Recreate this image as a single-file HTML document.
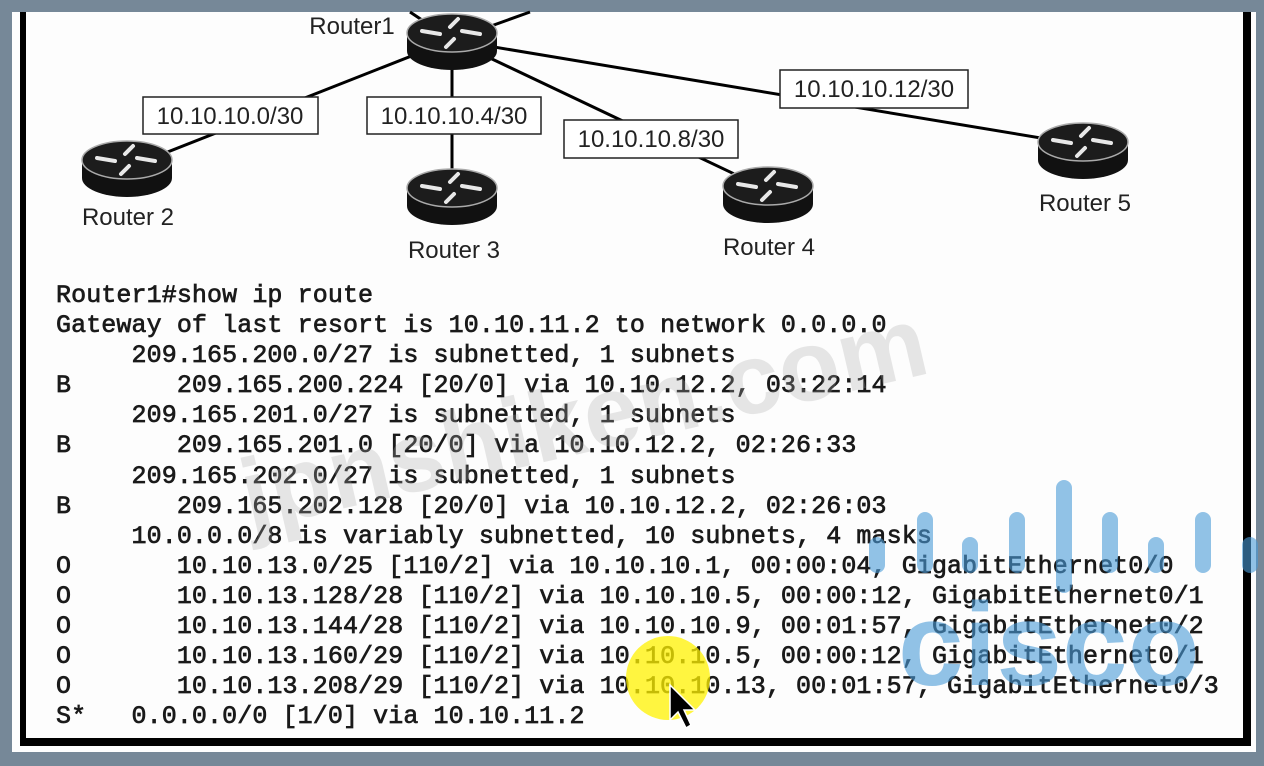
<!DOCTYPE html>
<html><head><meta charset="utf-8"><style>
html,body{margin:0;padding:0;background:#768898;}
#wrap{position:relative;width:1264px;height:766px;overflow:hidden;background:#768898;}
#panel{position:absolute;left:12px;top:12px;width:1244px;height:740px;background:#fdfdfd;}
pre{position:absolute;left:56px;top:281px;margin:0;font-family:"Liberation Mono",monospace;font-size:25px;line-height:30.1px;color:#1a1a1a;font-weight:normal;-webkit-text-stroke:0.7px #1a1a1a;letter-spacing:0.1px;}
</style></head><body><div id="wrap">
<div id="panel"></div>
<svg width="1264" height="766" style="position:absolute;left:0;top:0">
<defs>
<g id="rt">
<path d="M-45,0 L-45,18 A45,19 0 0 0 45,18 L45,0 Z" fill="#111"/>
<ellipse cx="0" cy="0" rx="45" ry="19" fill="#1c1c1c" stroke="#aaa" stroke-width="1.5"/>
<g stroke="#e8e8e8" stroke-width="4" stroke-linecap="round">
<line x1="-30" y1="-2" x2="-12" y2="1"/><line x1="28" y1="1" x2="10" y2="-2"/>
<line x1="6" y1="-14" x2="-2" y2="-6"/><line x1="-6" y1="14" x2="2" y2="6"/>
</g>
</g>
</defs>
<rect x="20" y="12" width="6" height="734" fill="#000"/>
<rect x="1243" y="12" width="8" height="734" fill="#000"/>
<rect x="20" y="738" width="1231" height="8" fill="#000"/>
<g stroke="#000" stroke-width="3">
<line x1="452" y1="40" x2="410" y2="12"/>
<line x1="452" y1="40" x2="530" y2="12"/>
<line x1="452" y1="40" x2="127" y2="168"/>
<line x1="452" y1="40" x2="452" y2="185"/>
<line x1="452" y1="40" x2="768" y2="190"/>
<line x1="452" y1="40" x2="1083" y2="145"/>
</g>
<g fill="#fff" stroke="#222" stroke-width="1.5">
<rect x="143" y="97" width="175" height="37"/>
<rect x="367" y="97" width="174" height="37"/>
<rect x="564" y="120" width="174" height="38"/>
<rect x="780" y="70" width="188" height="38"/>
</g>
<g font-family="Liberation Sans,sans-serif" font-size="24" fill="#222" text-anchor="middle">
<text x="230" y="124">10.10.10.0/30</text>
<text x="454" y="124">10.10.10.4/30</text>
<text x="651" y="147">10.10.10.8/30</text>
<text x="874" y="97">10.10.10.12/30</text>
<text x="352" y="34">Router1</text>
<text x="128" y="225">Router 2</text>
<text x="454" y="258">Router 3</text>
<text x="769" y="255">Router 4</text>
<text x="1085" y="211">Router 5</text>
</g>
<use href="#rt" x="452" y="33"/>
<use href="#rt" x="127" y="160"/>
<use href="#rt" x="452" y="188"/>
<use href="#rt" x="768" y="186"/>
<use href="#rt" x="1083" y="142"/>
</svg>
<pre>Router1#show ip route
Gateway of last resort is 10.10.11.2 to network 0.0.0.0
     209.165.200.0/27 is subnetted, 1 subnets
B       209.165.200.224 [20/0] via 10.10.12.2, 03:22:14
     209.165.201.0/27 is subnetted, 1 subnets
B       209.165.201.0 [20/0] via 10.10.12.2, 02:26:33
     209.165.202.0/27 is subnetted, 1 subnets
B       209.165.202.128 [20/0] via 10.10.12.2, 02:26:03
     10.0.0.0/8 is variably subnetted, 10 subnets, 4 masks
O       10.10.13.0/25 [110/2] via 10.10.10.1, 00:00:04, GigabitEthernet0/0
O       10.10.13.128/28 [110/2] via 10.10.10.5, 00:00:12, GigabitEthernet0/1
O       10.10.13.144/28 [110/2] via 10.10.10.9, 00:01:57, GigabitEthernet0/2
O       10.10.13.160/29 [110/2] via 10.10.10.5, 00:00:12, GigabitEthernet0/1
O       10.10.13.208/29 [110/2] via 10.10.10.13, 00:01:57, GigabitEthernet0/3
S*   0.0.0.0/0 [1/0] via 10.10.11.2</pre>
<svg width="1264" height="766" style="position:absolute;left:0;top:0">
<circle cx="668" cy="678" r="42" fill="#fff200" opacity="0.75"/>
<path d="M670,685 L670,720 L678,712 L686,728 L691,725 L684,710 L695,710 Z" fill="#000" stroke="#fff" stroke-width="1.5"/>
<g stroke="#4a9bd8" stroke-width="16" stroke-linecap="round" opacity="0.6">
<line x1="877" y1="545" x2="877" y2="565"/>
<line x1="925" y1="520" x2="925" y2="565"/>
<line x1="970" y1="545" x2="970" y2="565"/>
<line x1="1017" y1="520" x2="1017" y2="565"/>
<line x1="1064" y1="488" x2="1064" y2="585"/>
<line x1="1110" y1="520" x2="1110" y2="565"/>
<line x1="1156" y1="545" x2="1156" y2="565"/>
<line x1="1203" y1="520" x2="1203" y2="565"/>
<line x1="1250" y1="545" x2="1250" y2="565"/>
</g>
<text x="898" y="685" font-family="Liberation Sans,sans-serif" font-weight="bold" font-size="118" fill="#4a9bd8" opacity="0.6">cisco</text>
<text x="250" y="530" transform="rotate(-13 250 530)" font-family="Liberation Sans,sans-serif" font-weight="bold" font-size="100" fill="#aaa" opacity="0.28">jpnshiken.com</text>
</svg>
</div></body></html>
